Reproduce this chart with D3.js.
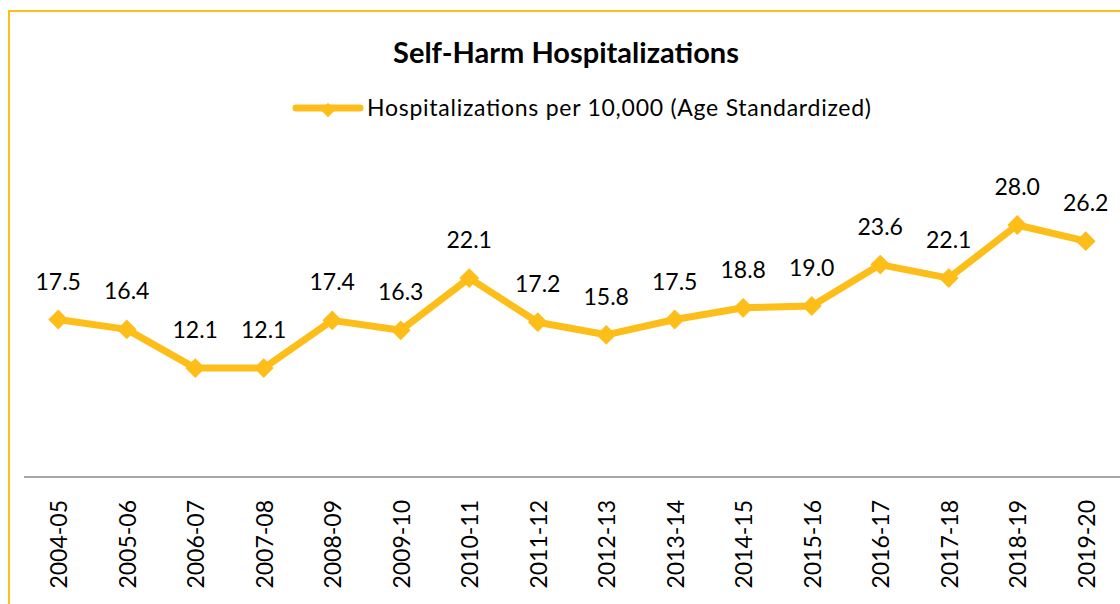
<!DOCTYPE html>
<html>
<head>
<meta charset="utf-8">
<script src="https://cdn.jsdelivr.net/npm/d3@7"></script>
<style>
  html, body { margin: 0; padding: 0; background: #fff; }
  svg { display: block; font-family: Lato, "Open Sans", sans-serif; }
</style>
</head>
<body>
<svg id="chart" width="1120" height="604"></svg>
<script>
// Self-harm hospitalizations, age standardized rate per 10,000
const years = ['2004-05','2005-06','2006-07','2007-08','2008-09','2009-10','2010-11','2011-12',
               '2012-13','2013-14','2014-15','2015-16','2016-17','2017-18','2018-19','2019-20'];
const rates = [17.5, 16.4, 12.1, 12.1, 17.4, 16.3, 22.1, 17.2, 15.8, 17.5, 18.8, 19.0, 23.6, 22.1, 28.0, 26.2];
const seriesName = 'Hospitalizations per 10,000 (Age Standardized)';
const chartTitle = 'Self-Harm Hospitalizations';

const YELLOW = '#FDBE1A';
const svg = d3.select('#chart');

// outer frame (runs off the right and bottom edges, like the crop)
svg.append('rect')
    .attr('x', 9).attr('y', 11).attr('width', 1130).attr('height', 620)
    .attr('fill', 'none').attr('stroke', YELLOW).attr('stroke-width', 2);

const x = d3.scalePoint().domain(years).range([24, 1120]).padding(0.5);
const y = d3.scaleLinear().domain([0, 40]).range([477, 117]);

// title
svg.append('text')
    .attr('x', 566).attr('y', 63)
    .attr('text-anchor', 'middle')
    .style('font-size', '29px').style('font-weight', 'bold').style('fill', '#000')
    .text(chartTitle);

// legend
const lg = svg.append('g');
lg.append('line')
    .attr('x1', 296).attr('x2', 360).attr('y1', 108).attr('y2', 108)
    .attr('stroke', YELLOW).attr('stroke-width', 7).attr('stroke-linecap', 'round');
lg.append('path')
    .attr('d', d3.symbol(d3.symbolDiamond2, 130)())
    .attr('transform', 'translate(328,110)')
    .attr('fill', YELLOW);
lg.append('text')
    .attr('x', 367).attr('y', 116)
    .attr('textLength', 504).attr('lengthAdjust', 'spacing')
    .style('font-size', '23px').style('fill', '#000')
    .text(seriesName);

// category axis
const axis = svg.append('g')
    .attr('transform', `translate(0,${y(0)})`)
    .call(d3.axisBottom(x).tickSize(0).tickPadding(0));
axis.select('.domain').attr('stroke', '#A6A6A6').attr('stroke-width', 2)
    .attr('d', 'M24,0H1120');
axis.selectAll('.tick text')
    .attr('transform', 'translate(0,23) rotate(-90)')
    .attr('text-anchor', 'end')
    .attr('dy', '0.36em').attr('y', 0).attr('x', 0)
    .style('font-size', '23px').style('font-family', 'Lato, sans-serif').style('fill', '#000');

// line + markers
const line = d3.line().x((d, i) => x(years[i])).y(d => y(d));
svg.append('path')
    .datum(rates)
    .attr('d', line)
    .attr('fill', 'none').attr('stroke', YELLOW)
    .attr('stroke-width', 7).attr('stroke-linejoin', 'round');

svg.selectAll('.marker').data(rates).join('path')
    .attr('class', 'marker')
    .attr('d', d3.symbol(d3.symbolDiamond2, 250)())
    .attr('transform', (d, i) => `translate(${x(years[i])},${y(d)})`)
    .attr('fill', YELLOW);

// data labels
svg.selectAll('.lbl').data(rates).join('text')
    .attr('class', 'lbl')
    .attr('x', (d, i) => x(years[i]))
    .attr('y', d => y(d) - 30)
    .attr('text-anchor', 'middle')
    .style('font-size', '23px').style('fill', '#000')
    .text(d => d.toFixed(1));
</script>
</body>
</html>
